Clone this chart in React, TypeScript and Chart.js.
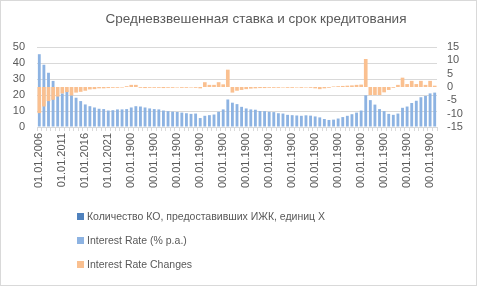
import React, { useEffect, useRef } from 'react';
import { Chart, registerables } from 'chart.js';

Chart.register(...registerables);

// Tick labels shown on the category axis (every 5th category)
const tickLabels = [
  '01.01.2006', '01.01.2011', '01.01.2016', '01.01.2021',
  '00.01.1900', '00.01.1900', '00.01.1900', '00.01.1900', '00.01.1900',
  '00.01.1900', '00.01.1900', '00.01.1900', '00.01.1900', '00.01.1900',
  '00.01.1900', '00.01.1900', '00.01.1900', '00.01.1900',
];
const LABEL_STEP = 5;

// Interest Rate (% p.a.) — left axis
const rate = [
  45.5, 38.9, 33.9, 28.8, 19.6, 21.0, 23.0, 21.0, 18.3, 16.2,
  14.1, 13.0, 12.2, 11.4, 11.2, 10.3, 10.5, 11.0, 11.0, 11.2,
  12.2, 13.0,
  12.8, 12.2, 11.6, 11.2, 11.0, 10.3, 9.9, 9.6, 9.4, 9.0, 8.6, 8.2, 8.4,
  5.6,
  7.0, 7.4, 7.8, 9.5, 11.0,
  17.2,
  15.2, 14.3, 12.6, 11.6, 11.0, 10.8, 10.0, 9.9, 9.5, 9.3,
  8.6, 8.4, 7.6, 7.4, 7.2, 7.0, 7.3, 7.1, 6.6, 6.0,
  5.0, 4.4, 4.6, 5.3, 6.2, 7.0, 8.0, 9.0, 10.3,
  19.8,
  16.8, 14.0, 11.2, 9.9, 8.2, 7.6, 8.4, 12.0, 12.8, 15.0, 16.4, 18.6, 19.4, 21.0, 21.5,
];

// Interest Rate Changes — right axis
const rateChanges = [
  -9.8, -7.3, -5.3, -4.8, -3.6, -2.4, -1.9, -3.2, -2.1, -1.8,
  -1.4, -0.9, -0.8, -0.5, -0.5, -0.4, -0.3, -0.3, -0.2, 0.3,
  0.8, 0.8,
  -0.3, -0.4, -0.3, -0.3, -0.3, -0.4, -0.3, -0.3, -0.2, -0.3, -0.3, -0.2, -0.3,
  -0.5,
  1.8, 0.8, 0.8, 1.8, 1.0,
  6.5,
  -2.1, -1.4, -1.1, -0.8, -0.6, -0.5, -0.4, -0.4, -0.3, -0.3,
  -0.3, -0.2, -0.3, -0.3, -0.2, -0.3, -0.2, -0.3, -0.5, -0.8,
  -0.5, -0.3, 0.2, 0.3, 0.4, 0.5, 0.6, 0.8, 0.9,
  10.5,
  -3.0, -3.0, -3.0, -2.0, -1.1, -0.3, 0.8, 3.5, 1.1, 2.3, 1.1, 2.3, 0.8, 2.3, 0.5,
];

// Количество КО — no values in the source chart
const countKO: (number | null)[] = [];

const categories = rate.map((_, i) => (i % LABEL_STEP === 0 ? tickLabels[i / LABEL_STEP] : ''));

const chartTitle = 'Средневзвешенная ставка и срок кредитования';
const seriesNames = [
  'Количество КО, предоставивших ИЖК, единиц X',
  'Interest Rate (% p.a.)',
  'Interest Rate Changes',
];
const seriesColors = ['#4F81BD', '#8DB3E2', '#FAC090'];

const FONT = "'Liberation Sans', Arial, sans-serif";
const TEXT = '#595959';

export default function App() {
  const ref = useRef<HTMLCanvasElement>(null);

  useEffect(() => {
    document.body.style.margin = '0';
    const chart = new Chart(ref.current as HTMLCanvasElement, {
      type: 'bar',
      data: {
        labels: categories,
        datasets: [
          {
            label: seriesNames[0], data: countKO, backgroundColor: seriesColors[0],
            yAxisID: 'y', grouped: false, categoryPercentage: 1, barPercentage: 0.6, order: 2,
          },
          {
            label: seriesNames[1], data: rate, backgroundColor: seriesColors[1],
            yAxisID: 'y', grouped: false, categoryPercentage: 1, barPercentage: 0.62, order: 1,
          },
          {
            label: seriesNames[2], data: rateChanges, backgroundColor: seriesColors[2],
            yAxisID: 'y1', grouped: false, categoryPercentage: 1, barPercentage: 0.8, order: 0,
          },
        ] as any,
      },
      options: {
        animation: false,
        responsive: false,
        maintainAspectRatio: false,
        layout: { padding: { top: 47, left: 8, right: 14, bottom: 92 } },
        plugins: {
          legend: { display: false },
          tooltip: { enabled: false },
          title: { display: false },
        },
        scales: {
          x: {
            grid: { drawOnChartArea: false, tickLength: 4, color: '#d9d9d9' },
            border: { color: '#d9d9d9' },
            ticks: {
              autoSkip: false, minRotation: 90, maxRotation: 90, padding: 2,
              color: TEXT, font: { family: FONT, size: 11 },
            },
            afterFit: (s: any) => { s.height = 69; },
          },
          y: {
            position: 'left', min: 0, max: 50,
            ticks: { stepSize: 10, autoSkip: false, padding: 12, color: TEXT, font: { family: FONT, size: 11 } },
            grid: { color: '#d9d9d9', drawTicks: false },
            border: { display: false },
            afterFit: (s: any) => { s.width = 29; },
          },
          y1: {
            position: 'right', min: -15, max: 15,
            ticks: { stepSize: 5, autoSkip: false, padding: 10, color: TEXT, font: { family: FONT, size: 11 } },
            grid: { display: false, drawTicks: false },
            border: { display: false },
            afterFit: (s: any) => { s.width = 29; },
          },
        },
      } as any,
    });
    return () => chart.destroy();
  }, []);

  const legendTops = [209, 233, 257];

  return (
    <div style={{ position: 'relative', width: 480, height: 288, overflow: 'hidden', background: '#fff' }}>
      <canvas ref={ref} width={480} height={288} style={{ display: 'block' }} />
      <div style={{ position: 'absolute', left: 0, top: 0, width: 475, height: 284, border: '1px solid #d9d9d9', pointerEvents: 'none' }} />
      <div style={{ position: 'absolute', left: 0, top: 11, width: 512, textAlign: 'center', font: `13.5px ${FONT}`, color: TEXT, whiteSpace: 'nowrap' }}>
        {chartTitle}
      </div>
      {seriesNames.map((name, i) => (
        <div key={name} style={{ position: 'absolute', left: 77, top: legendTops[i], height: 14, display: 'flex', alignItems: 'center', whiteSpace: 'nowrap' }}>
          <span style={{ width: 7, height: 7, background: seriesColors[i], marginRight: 3, display: 'inline-block' }} />
          <span style={{ font: `10.5px ${FONT}`, color: TEXT }}>{name}</span>
        </div>
      ))}
    </div>
  );
}
